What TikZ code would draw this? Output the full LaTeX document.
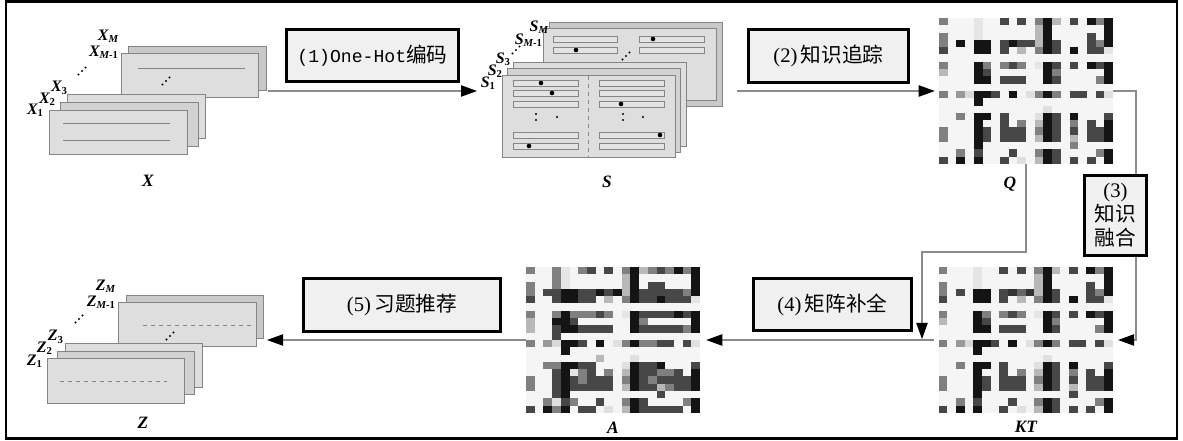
\documentclass[tikz,border=0pt]{standalone}
\usepackage{fontspec}
\setmainfont{Liberation Serif}
\newfontfamily\cjk{Noto Sans CJK SC}
\newfontfamily\monof{Liberation Mono}
\usetikzlibrary{arrows.meta}
\definecolor{boxfill}{HTML}{F0F0F0}
\definecolor{cardA}{HTML}{DEDEDE}
\definecolor{cardB}{HTML}{D2D2D2}
\definecolor{cardC}{HTML}{C9C9C9}
\definecolor{edgec}{HTML}{858585}
\definecolor{connc}{HTML}{8C8C8C}
\definecolor{barfill}{HTML}{E4E4E4}

\newcommand\drawmat[3]{%
  \fill[black!4] (#1,#2) rectangle ++(174,146);
  \foreach \r/\cells in #3 {
    \foreach \c/\v in \cells {
      \fill[black!\v] ({#1+\c*8.7},{#2+\r*7.3}) rectangle ++(8.7,7.3);
    }
  }%
}
\newcommand\diagdots[2]{%
  \foreach \k in {-1,0,1} \fill ({#1+3.5*\k},{#2-3.5*\k}) circle (1.2);%
}

\def\Qdata{0/{0/50,4/10,7/72,9/72,11/50,12/92,13/28,15/72,17/92,18/50,19/92},
1/{4/10,11/28,12/92,19/92},
2/{0/50,4/10,11/28,12/92,17/72,19/92},
3/{0/50,2/92,4/92,5/92,7/72,8/92,9/72,10/72,11/28,12/92,13/72,17/72,18/50,19/92},
4/{0/72,4/92,5/92,7/72,9/28,11/50,12/92,13/72,15/92,17/72,18/72,19/10},
6/{0/50,4/92,5/50,7/50,8/72,9/50,11/10,12/92,13/72,15/72,17/92,18/72,19/92},
7/{0/28,4/92,5/72,12/92,13/50,19/92},
8/{4/92,5/92,7/72,8/72,9/72,12/92,13/72,18/50,19/92},
10/{0/50,2/40,3/15,4/92,5/92,6/72,8/92,10/12,11/50,12/92,13/50,15/72,16/72,18/72,19/12},
11/{4/92},
12/{12/12},
13/{2/50,4/92,5/92,7/72,11/12,12/92,13/72,15/92,19/72},
14/{4/92,7/72,9/50,11/28,12/92,13/72,15/50,17/72,19/92},
15/{0/50,4/92,5/72,7/72,8/72,9/72,11/50,12/92,13/72,15/72,17/72,18/72,19/92},
16/{0/50,4/92,5/72,7/72,8/72,9/72,11/28,12/92,13/72,15/28,17/72,18/72,19/92},
17/{4/92,15/50},
18/{2/50,4/72,8/72,11/50,12/92,13/72,18/50,19/92},
19/{0/72,2/92,4/92,7/72,9/12,11/28,12/92,13/72,15/72,17/72,19/92}}

\def\KTdata{0/{0/50,4/10,7/72,9/72,11/50,12/92,13/28,15/72,17/92,18/50,19/92},
1/{4/10,11/28,12/92,19/92},
2/{0/50,4/10,11/28,12/92,17/72,19/92},
3/{0/50,2/72,4/92,5/92,7/72,8/80,9/60,10/80,11/28,12/92,13/72,17/72,18/50,19/92},
4/{0/72,4/92,5/92,7/72,9/28,11/50,12/92,13/72,15/92,17/72,18/72,19/10},
6/{0/50,4/92,5/50,7/50,8/72,9/50,11/10,12/92,13/72,15/72,17/92,18/72,19/92},
7/{0/28,4/92,5/72,12/92,13/50,19/92},
8/{4/92,5/92,7/72,8/72,9/72,12/92,13/72,18/50,19/92},
10/{0/50,2/40,3/15,4/92,5/92,6/72,8/92,10/12,11/50,12/92,13/50,15/72,16/72,18/72,19/12},
11/{4/92},
12/{12/12},
13/{2/50,4/92,5/92,7/72,11/12,12/92,13/72,15/92,19/72},
14/{4/92,7/72,9/50,11/28,12/92,13/72,15/50,17/72,19/92},
15/{0/50,4/92,5/72,7/72,8/72,9/72,11/50,12/92,13/72,15/72,17/72,18/72,19/92},
16/{0/50,4/92,5/72,7/72,8/72,9/72,11/28,12/92,13/72,15/28,17/72,18/72,19/92},
17/{4/92,15/72},
18/{2/50,4/72,8/72,11/50,12/92,13/72,18/50,19/92},
19/{0/72,2/92,4/92,7/72,9/12,11/28,12/92,13/72,15/72,17/72,19/92}}

\def\Adata{0/{0/50,3/50,4/10,6/50,7/72,9/72,11/50,12/92,13/28,14/50,15/72,16/50,17/92,18/50,19/92},
1/{3/50,4/10,11/28,12/92,19/92},
2/{0/50,3/50,4/10,11/28,12/92,14/72,15/72,19/92},
3/{0/50,2/72,3/72,4/92,5/92,6/72,7/72,8/92,9/72,10/92,11/28,12/92,13/72,14/72,15/72,16/72,17/72,18/50,19/92},
4/{0/72,3/72,4/92,5/92,6/72,7/72,9/28,11/50,12/92,13/72,14/72,15/92,16/72,17/72,18/72,19/10},
6/{0/50,3/50,4/92,5/50,6/50,7/50,8/72,9/50,11/10,12/92,13/72,14/72,15/72,16/72,17/92,18/72,19/92},
7/{0/28,3/92,4/92,5/72,12/92,13/50,19/92},
8/{0/28,3/72,4/92,5/92,6/72,7/72,8/72,9/72,12/92,13/72,14/72,15/72,16/72,17/72,18/50,19/92},
9/{3/72},
10/{0/50,2/40,3/15,4/92,5/92,6/72,8/92,10/12,11/50,12/92,13/50,14/50,15/72,16/72,18/72,19/12},
11/{4/92},
12/{8/28,12/12},
13/{2/50,3/50,4/92,5/92,6/72,7/72,11/12,12/92,13/72,14/72,15/92,19/72},
14/{3/72,4/92,5/10,6/50,7/72,9/50,11/28,12/92,13/72,14/72,15/50,16/50,17/72,19/92},
15/{0/50,3/72,4/92,5/72,6/50,7/72,8/72,9/72,11/50,12/92,13/72,14/50,15/72,16/72,17/72,18/72,19/92},
16/{0/50,3/72,4/92,5/72,6/72,7/72,8/72,9/72,11/28,12/92,13/72,14/72,15/28,16/50,17/72,18/72,19/92},
17/{3/72,4/92,15/72},
18/{2/50,3/12,4/72,5/50,8/72,11/50,12/92,13/72,18/50,19/92},
19/{0/72,2/92,3/50,4/92,6/72,7/72,9/12,11/28,12/92,13/72,14/72,15/72,16/72,17/72,19/92}}

\begin{document}
\begin{tikzpicture}[x=0.75pt,y=-0.75pt,
  procbox/.style={draw=black, line width=2.2pt, fill=boxfill, inner sep=0pt, align=center,
    font=\fontsize{15.5pt}{18pt}\selectfont},
  matnode/.style={minimum width=130.5pt, minimum height=109.5pt, inner sep=0pt, draw=none},
  card/.style={draw=edgec, line width=0.75pt},
  bar/.style={draw=edgec, fill=barfill, line width=0.6pt},
  lbl/.style={inner sep=0pt, font=\fontsize{12pt}{14pt}\selectfont\bfseries\itshape},
  biglbl/.style={inner sep=0pt, font=\fontsize{13pt}{15pt}\selectfont\bfseries\itshape},
  conn/.style={draw=connc, line width=0.8pt},
  arr/.style={conn, -{Triangle[length=12pt,width=8.5pt,color=black]}},
  pt/.style={fill=black}
]
\useasboundingbox (0,0) rectangle (1183,441);
\fill[white] (0,0) rectangle (1183,441);
\draw[line width=1.9pt] (6,1.5) rectangle (1177,438.5);

% ---------------- X stack
\draw[card, fill=cardC] (128,47) rectangle (266,91);
\draw[card, fill=cardA] (121,54) rectangle (258,98);
\draw[edgec, line width=0.7pt] (138,68) -- (245,68);
\diagdots{166}{81}
\draw[card, fill=cardA] (67,95) rectangle (205,139);
\draw[card, fill=cardB] (60,103) rectangle (198,147);
\draw[card, fill=cardA] (49,111) rectangle (187,155);
\draw[edgec, line width=0.7pt] (63,123) -- (170,123);
\draw[edgec, line width=0.7pt] (63,140) -- (170,140);
\node[lbl, anchor=east] (xm) at (119,36) {X\textsubscript{M}};
\node[lbl, anchor=east] (xm1) at (119,52) {X\textsubscript{M\upshape -1}};
\diagdots{82}{71}
\node[lbl, anchor=east] (x3) at (68,88) {X\textsubscript{\upshape 3}};
\node[lbl, anchor=east] (x2) at (56,99) {X\textsubscript{\upshape 2}};
\node[lbl, anchor=east] (x1) at (44,110) {X\textsubscript{\upshape 1}};
\node[biglbl] (xl) at (148,181) {X};
\coordinate (Xout) at (268,91);

% ---------------- S stack
\draw[card, fill=cardC] (549,23) rectangle (722,107);
\draw[card, fill=cardA] (543,29) rectangle (716,101);
\foreach \yy in {39,50} {
  \draw[bar] (553,\yy-3) rectangle (617,\yy+3);
  \draw[bar] (639,\yy-3) rectangle (704,\yy+3);
}
\fill (653,39) circle (2.3);
\fill (576,50) circle (2.3);
\diagdots{626}{56}
\draw[card, fill=cardA] (513,63) rectangle (686,147);
\draw[card, fill=cardB] (507,69) rectangle (680,153);
\draw[card, fill=cardA] (502,76) rectangle (675,158);
\foreach \yy in {83,93,104,135,146} {
  \draw[bar] (513,\yy-3) rectangle (578,\yy+3);
  \draw[bar] (599,\yy-3) rectangle (664,\yy+3);
}
\draw[edgec, dashed, line width=0.6pt] (588,76) -- (588,158);
\fill (541,83) circle (2.3);
\fill (552,93) circle (2.3);
\fill (621,104) circle (2.3);
\fill (660,135) circle (2.3);
\fill (529,146) circle (2.3);
\fill (536,114) circle (1.2); \fill (536,120) circle (1.2); \fill (557,117) circle (1.2);
\fill (623,114) circle (1.2); \fill (623,120) circle (1.2); \fill (643,117) circle (1.2);
\node[lbl, anchor=east] (sm) at (549,27) {S\textsubscript{M}};
\node[lbl, anchor=east] (sm1) at (543,40) {S\textsubscript{M\upshape -1}};
\diagdots{516}{50}
\node[lbl, anchor=east] (s3) at (511,59) {S\textsubscript{\upshape 3}};
\node[lbl, anchor=east] (s2) at (503,71) {S\textsubscript{\upshape 2}};
\node[lbl, anchor=east] (s1) at (496,83) {S\textsubscript{\upshape 1}};
\node[biglbl] (sl) at (607,182) {S};
\coordinate (Sin) at (477,91);
\coordinate (Sout) at (737,91);

% ---------------- Z stack
\draw[card, fill=cardC] (126,296) rectangle (263,339);
\draw[card, fill=cardA] (118,303) rectangle (256,347);
\draw[edgec, dashed, line width=0.7pt] (143,325) -- (251,325);
\diagdots{170}{336}
\draw[card, fill=cardA] (65,344) rectangle (202,388);
\draw[card, fill=cardB] (57,352) rectangle (194,395);
\draw[card, fill=cardA] (47,359) rectangle (184,404);
\draw[edgec, dashed, line width=0.7pt] (60,381) -- (167,381);
\node[lbl, anchor=east] (zm) at (116,286) {Z\textsubscript{M}};
\node[lbl, anchor=east] (zm1) at (116,302) {Z\textsubscript{M\upshape -1}};
\diagdots{79}{319}
\node[lbl, anchor=east] (z3) at (64,337) {Z\textsubscript{\upshape 3}};
\node[lbl, anchor=east] (z2) at (53,348) {Z\textsubscript{\upshape 2}};
\node[lbl, anchor=east] (z1) at (43,361) {Z\textsubscript{\upshape 1}};
\node[biglbl] (zl) at (143,423) {Z};
\coordinate (Zin) at (267,340);

% ---------------- matrices
\node[matnode] (Q) at (1026,91) {};
\drawmat{939}{18}{\Qdata}
\node[biglbl] (ql) at (1010,184) {Q};
\node[matnode] (KT) at (1025.5,340) {};
\drawmat{938.5}{267}{\KTdata}
\node[biglbl] (ktl) at (1026,427) {KT};
\node[matnode] (A) at (613,340) {};
\drawmat{526}{267}{\Adata}
\node[biglbl] (al) at (613,428) {A};

% ---------------- process boxes
\node[procbox, minimum width=129pt, minimum height=39pt] (b1) at (372.5,55.5)
  {{\monof\fontsize{13.6pt}{16pt}\selectfont (1)One-Hot}{\cjk 编码}};
\node[procbox, minimum width=120pt, minimum height=39.8pt] (b2) at (828.5,56)
  {(2)\,{\cjk 知识追踪}};
\node[procbox, minimum width=46.5pt, minimum height=60pt] (b3) at (1115.5,215.5)
  {(3)\\{\cjk 知识}\\{\cjk 融合}};
\node[procbox, minimum width=118.5pt, minimum height=39pt] (b4) at (832.5,304.5)
  {(4)\,{\cjk 矩阵补全}};
\node[procbox, minimum width=147.8pt, minimum height=39.8pt] (b5) at (402,305)
  {(5)\,{\cjk 习题推荐}};

% ---------------- connectors
\draw[arr] (Xout) -- (Sin);
\draw[arr, shorten >=3pt] (Sout) -- (Q.west);
\coordinate (b3in) at (1136,174);
\coordinate (b3out) at (1136,257);
\draw[conn] (Q.east) -| (b3in);
\draw[arr, shorten >=4pt] (b3out) |- (KT.east);
\coordinate (qturn) at (922,252);
\coordinate (qdown) at (922,339);
\draw[arr] (Q.south) |- (qturn) -- (qdown);
\draw[arr, shorten <=3pt, shorten >=4.5pt] (KT.west) -- (A.east);
\draw[arr] (A.west) -- (Zin);
\end{tikzpicture}
\end{document}
